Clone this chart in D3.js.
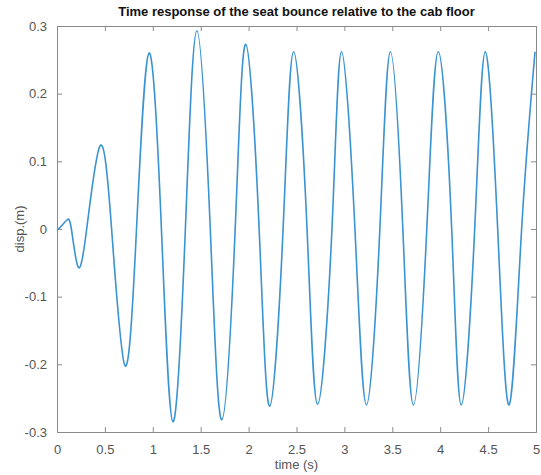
<!DOCTYPE html>
<html>
<head>
<meta charset="utf-8">
<script src="https://cdn.jsdelivr.net/npm/d3@7"></script>
<style>
  body { margin: 0; background: #fff; }
  text { font-family: "Liberation Sans", Arial, sans-serif; }
</style>
</head>
<body>
<svg id="grafico" width="541" height="475"></svg>
<script>
// puntos: extremos y cruces por cero
const tiempos = [0, 0.03, 0.1, 0.15, 0.22, 0.31, 0.45, 0.57, 0.71, 0.83, 0.96, 1.09, 1.21, 1.34, 1.46, 1.60, 1.72, 1.86, 1.97, 2.11, 2.22, 2.36, 2.47, 2.61, 2.72, 2.87, 2.97, 3.11, 3.23, 3.37, 3.48, 3.61, 3.72, 3.86, 3.98, 4.12, 4.22, 4.36, 4.47, 4.60, 4.72, 4.85, 4.99];
const desplaz = [0, 0.002, 0.013, 0, -0.056, 0, 0.123, 0, -0.202, 0, 0.26, 0, -0.285, 0, 0.293, 0, -0.282, 0, 0.273, 0, -0.262, 0, 0.262, 0, -0.259, 0, 0.262, 0, -0.26, 0, 0.262, 0, -0.26, 0, 0.262, 0, -0.26, 0, 0.262, 0, -0.26, 0, 0.262];
const ticksX = [0, 0.5, 1, 1.5, 2, 2.5, 3, 3.5, 4, 4.5, 5];
const ticksY = [-0.3, -0.2, -0.1, 0, 0.1, 0.2, 0.3];

const datos = tiempos.map((t, i) => ({t: t, y: desplaz[i]}));

const margen = {izq: 57, der: 536, arr: 26, aba: 432};
const svg = d3.select("#grafico");

const x = d3.scaleLinear().domain([0, 5]).range([margen.izq, margen.der]);
const y = d3.scaleLinear().domain([-0.3, 0.3]).range([margen.aba, margen.arr]);

const gris = "#8a8a8a";
const textoGris = "#555";

// ejes con ticks hacia dentro
const ejeX = svg.append("g").attr("transform", `translate(0,${margen.aba})`)
    .call(d3.axisBottom(x).tickValues(ticksX).tickSize(-5).tickPadding(10).tickFormat(d => String(d)));
const ejeY = svg.append("g").attr("transform", `translate(${margen.izq},0)`)
    .call(d3.axisLeft(y).tickValues(ticksY).tickSize(-5).tickPadding(10).tickFormat(d => String(d)));
const ejeXsup = svg.append("g").attr("transform", `translate(0,${margen.arr})`)
    .call(d3.axisTop(x).tickValues(ticksX).tickSize(-5).tickFormat(""));
const ejeYder = svg.append("g").attr("transform", `translate(${margen.der},0)`)
    .call(d3.axisRight(y).tickValues(ticksY).tickSize(-5).tickFormat(""));

[ejeX, ejeY, ejeXsup, ejeYder].forEach(g => {
    g.selectAll("path").attr("stroke", gris).attr("stroke-width", 1);
    g.selectAll("line").attr("stroke", gris);
    g.selectAll("text").attr("fill", textoGris).style("font-size", "13px");
});
ejeX.selectAll("text").attr("dy", "0.9em");

const linea = d3.line()
    .x(d => x(d.t))
    .y(d => y(d.y))
    .curve(d3.curveNatural);

svg.append("path")
    .datum(datos)
    .attr("d", linea)
    .attr("fill", "none")
    .attr("stroke", "#3a93d2")
    .attr("stroke-width", 1.6);

svg.append("text")
    .attr("x", (margen.izq + margen.der) / 2)
    .attr("y", 16)
    .attr("text-anchor", "middle")
    .style("font-size", "13px")
    .style("font-weight", "bold")
    .attr("fill", "#111")
    .text("Time response of the seat bounce relative to the cab floor");

svg.append("text")
    .attr("x", (margen.izq + margen.der) / 2)
    .attr("y", 469)
    .attr("text-anchor", "middle")
    .style("font-size", "13px")
    .attr("fill", textoGris)
    .text("time (s)");

svg.append("text")
    .attr("transform", `translate(24,${(margen.arr + margen.aba) / 2}) rotate(-90)`)
    .attr("text-anchor", "middle")
    .style("font-size", "13px")
    .attr("fill", textoGris)
    .text("disp.(m)");
</script>
</body>
</html>
